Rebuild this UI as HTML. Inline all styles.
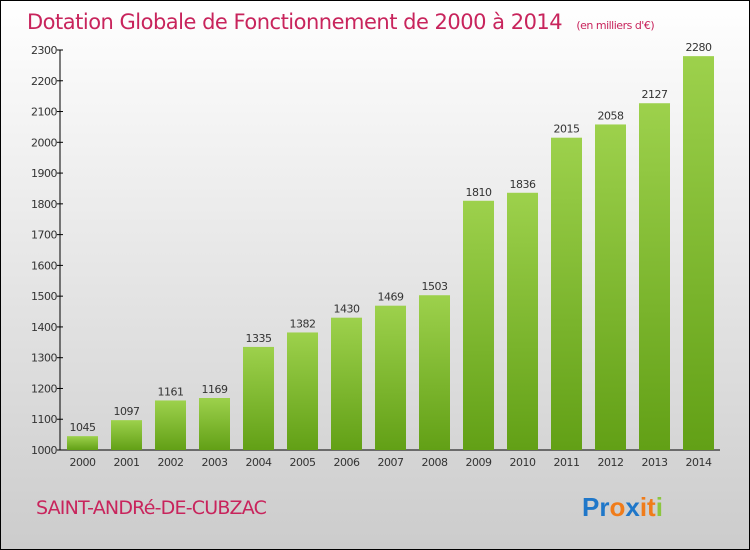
<!DOCTYPE html>
<html><head><meta charset="utf-8"><style>
body{margin:0}
#c{width:750px;height:550px;position:relative;font-family:"DejaVu Sans","Liberation Sans",sans-serif;overflow:hidden}
</style></head><body>
<div id="c">
<svg width="750" height="550" xmlns="http://www.w3.org/2000/svg">
<defs>
<linearGradient id="bg" x1="0" y1="0" x2="0" y2="1"><stop offset="0" stop-color="#ffffff"/><stop offset="1" stop-color="#cccccc"/></linearGradient>
<linearGradient id="bar" x1="0" y1="0" x2="0" y2="1"><stop offset="0" stop-color="#9dd14c"/><stop offset="1" stop-color="#62a016"/></linearGradient>
</defs>
<rect x="0.5" y="0.5" width="749" height="549" fill="url(#bg)" stroke="#000"/>
<text x="27" y="29" font-size="21" fill="#c8245c" style="letter-spacing:-0.5px">Dotation Globale de Fonctionnement de 2000 à 2014 <tspan font-size="11" dx="8">(en milliers d'€)</tspan></text>
<g id="axes"></g>
<g id="bars"></g>
<text x="36" y="514" font-size="19" fill="#c8245c" style="letter-spacing:-0.8px">SAINT-ANDRé-DE-CUBZAC</text>
<text x="582" y="516" font-size="26" font-weight="bold" font-family="Liberation Sans,sans-serif"><tspan fill="#1f77c9">Pr</tspan><tspan fill="#f07c1a">o</tspan><tspan fill="#1f77c9">x</tspan><tspan fill="#f07c1a">it</tspan><tspan fill="#8cc63f">i</tspan></text>
</svg>
</div>
<script>
const years=["2000","2001","2002","2003","2004","2005","2006","2007","2008","2009","2010","2011","2012","2013","2014"];
const values=[1045,1097,1161,1169,1335,1382,1430,1469,1503,1810,1836,2015,2058,2127,2280];
const yTicks=[1000,1100,1200,1300,1400,1500,1600,1700,1800,1900,2000,2100,2200,2300];
const NS="http://www.w3.org/2000/svg";
const y0=450,yTop=50,vMin=1000,vMax=2300;
function yS(v){return y0-(v-vMin)/(vMax-vMin)*(y0-yTop);}
function xS(i){return 67+i*44;}
const bw=31;
function mk(t,a,p){const e=document.createElementNS(NS,t);for(const k in a)e.setAttribute(k,a[k]);p.appendChild(e);return e;}
const ax=document.getElementById('axes'),bg=document.getElementById('bars');
let l=mk('line',{x1:60,y1:yTop,x2:60,y2:y0,stroke:'#000'},ax);


l=mk('line',{x1:60,y1:y0,x2:720,y2:y0,stroke:'#000'},ax);


yTicks.forEach(v=>{
 const t=mk('line',{x1:57,y1:yS(v),x2:63,y2:yS(v),stroke:'#000'},ax);
 
 
 const tx=mk('text',{x:57,y:yS(v)+4,'font-size':11,'text-anchor':'end',fill:'#333','letter-spacing':'-0.5'},ax);
 tx.textContent=v;
 
 
});
years.forEach((yr,i)=>{
 const x=xS(i),v=values[i];
 const r=mk('rect',{x:x,y:yS(v),width:bw,height:y0-yS(v),fill:'url(#bar)'},bg);
 
 
 const vt=mk('text',{x:x+bw/2,y:yS(v)-5,'font-size':11,'text-anchor':'middle',fill:'#333','letter-spacing':'-0.5'},bg);
 vt.textContent=v;
 
 
 const xt=mk('text',{x:x+bw/2,y:466,'font-size':11,'text-anchor':'middle',fill:'#333','letter-spacing':'-0.5'},bg);
 xt.textContent=yr;
 
 
});
</script>
</body></html>
